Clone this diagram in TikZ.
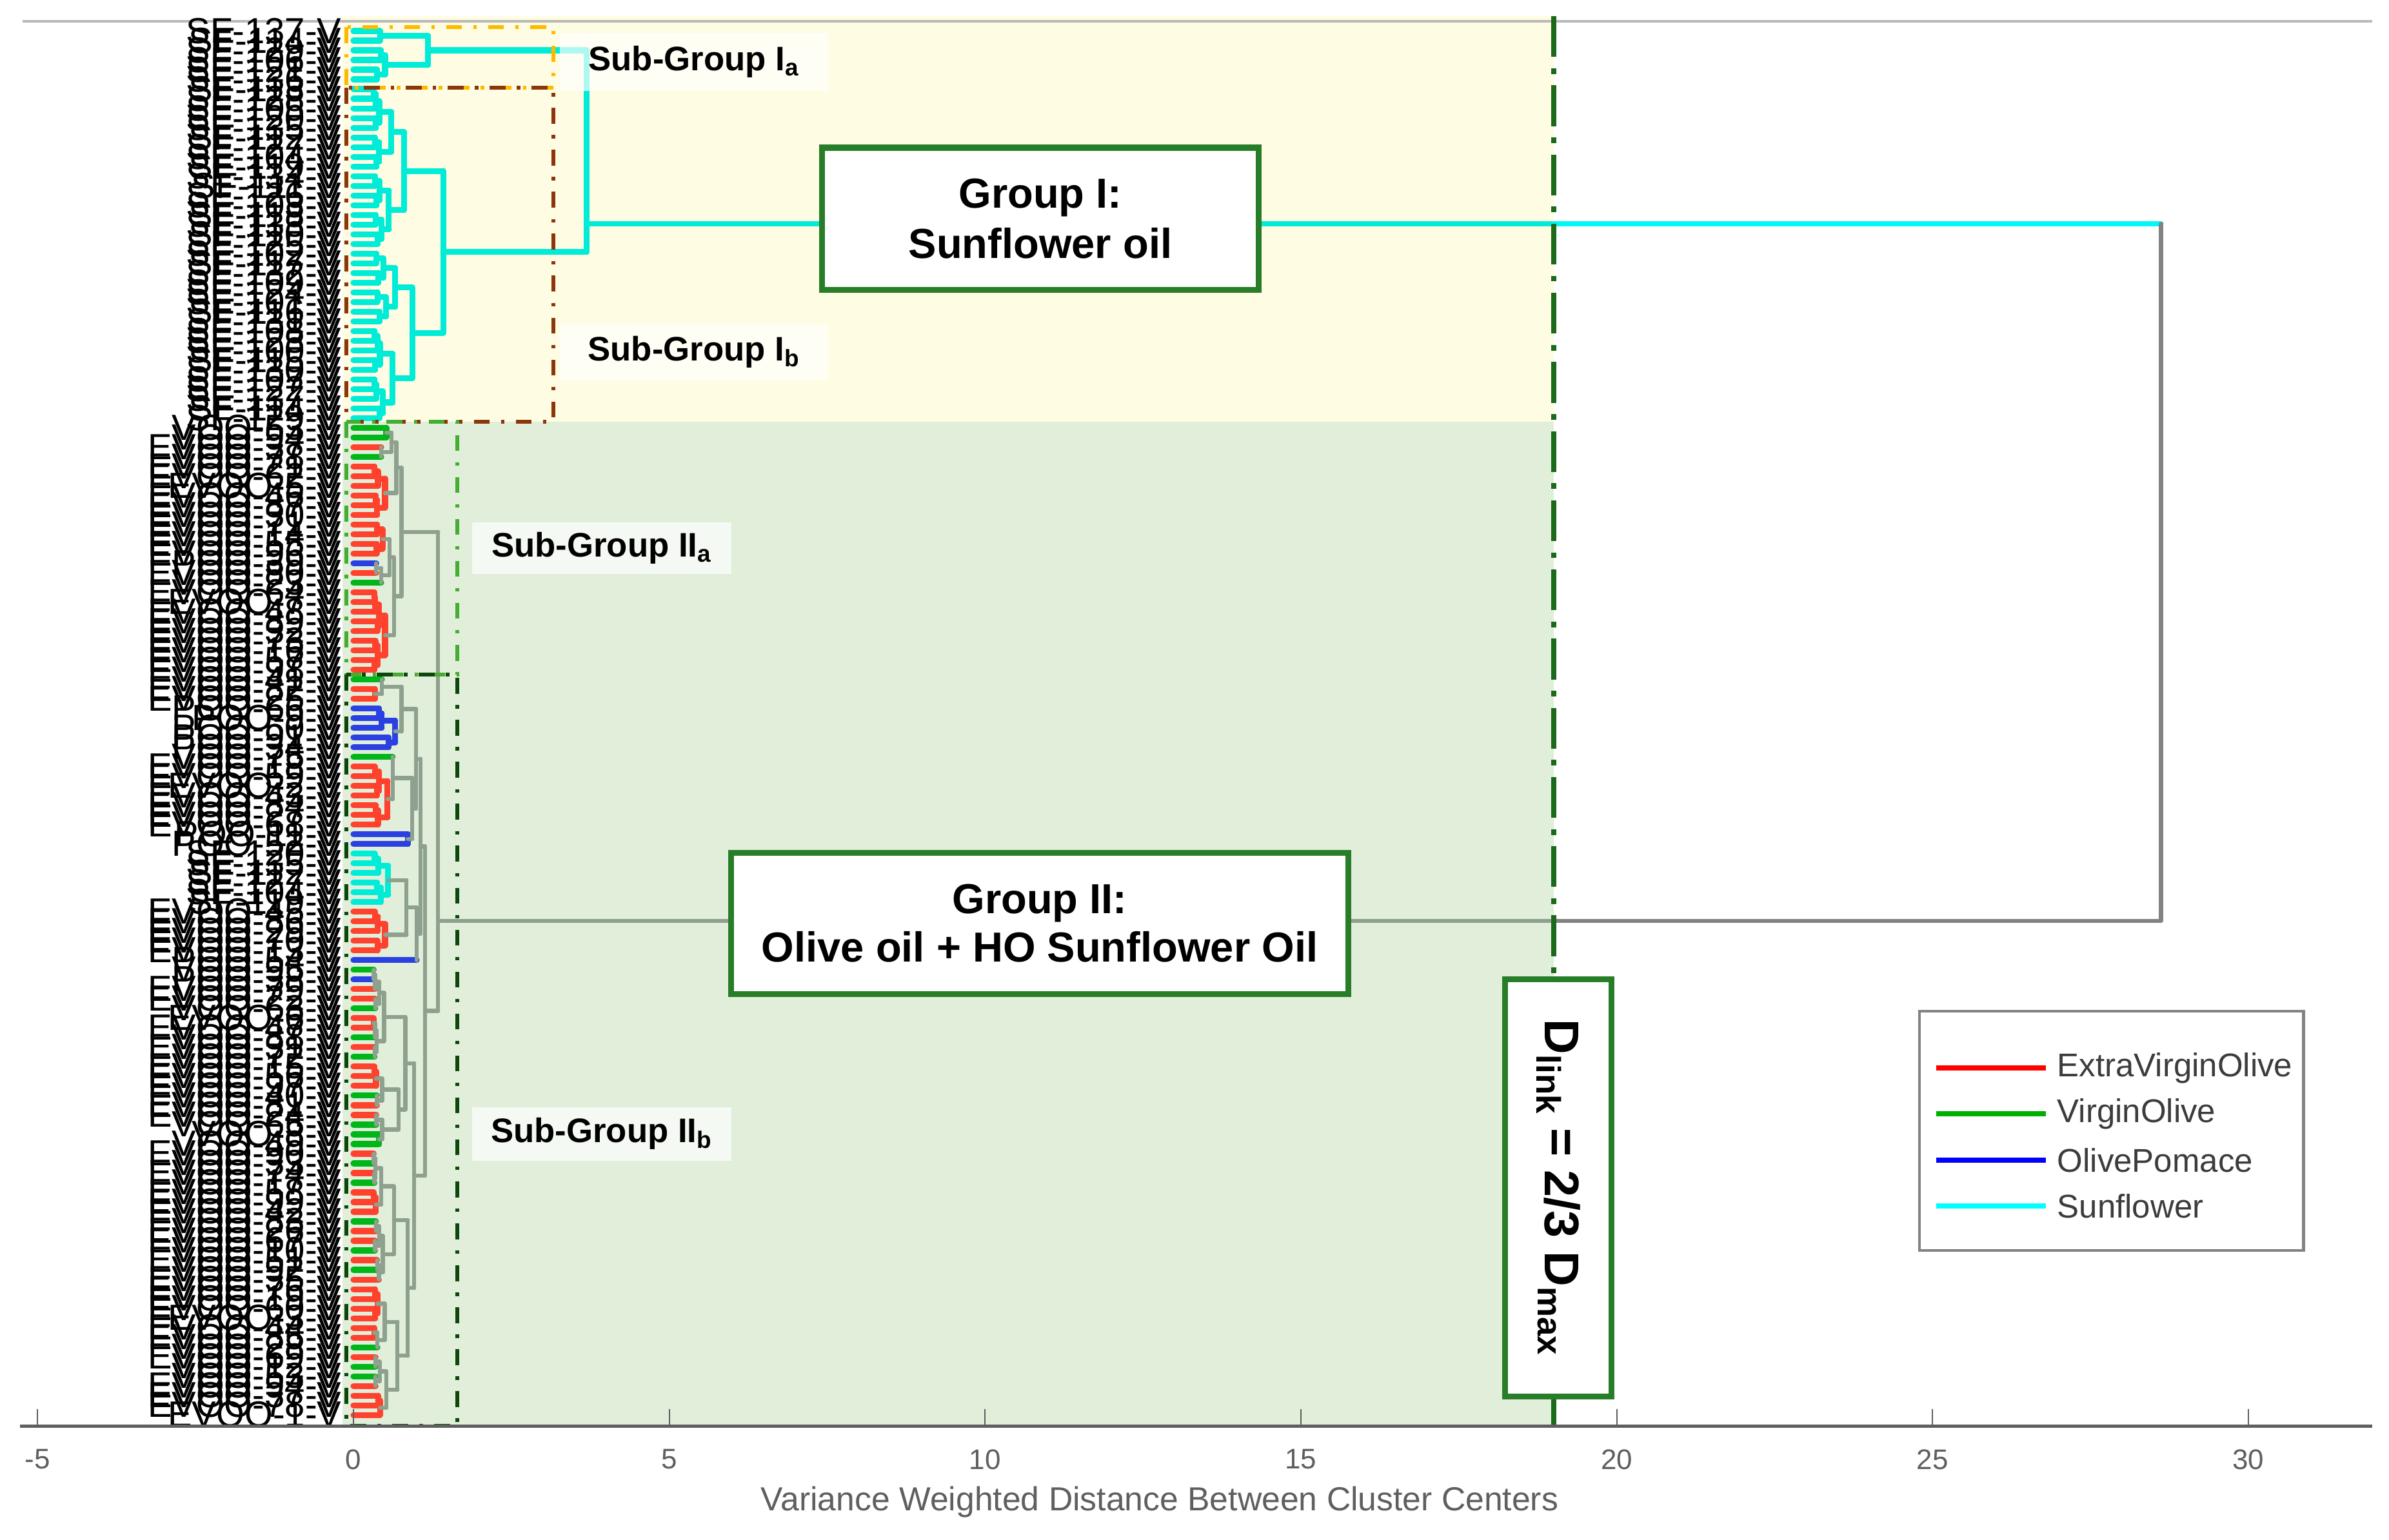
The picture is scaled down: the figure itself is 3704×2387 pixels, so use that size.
\documentclass[tikz,border=0pt]{standalone}
\usepackage{fontspec}
\setmainfont{Liberation Sans}
\definecolor{cC}{RGB}{0,236,214}
\definecolor{cCo}{RGB}{0,248,248}
\definecolor{cR}{RGB}{255,66,46}
\definecolor{cG}{RGB}{0,182,24}
\definecolor{cB}{RGB}{42,64,226}
\definecolor{cK}{RGB}{142,160,142}
\definecolor{panelY}{RGB}{254,252,227}
\definecolor{panelG}{RGB}{224,238,218}
\definecolor{boxG}{RGB}{40,125,40}
\definecolor{dlinkG}{RGB}{28,105,28}
\definecolor{subIa}{RGB}{255,186,0}
\definecolor{subIb}{RGB}{140,55,10}
\definecolor{subIIa}{RGB}{70,172,50}
\definecolor{subIIb}{RGB}{12,72,12}
\definecolor{axGray}{RGB}{95,95,95}
\definecolor{linkGray}{RGB}{130,130,130}
\definecolor{legText}{RGB}{60,60,60}
\definecolor{legRed}{RGB}{255,0,0}
\definecolor{legGreen}{RGB}{0,175,0}
\definecolor{legBlue}{RGB}{0,0,255}
\definecolor{legCyan}{RGB}{0,255,255}

\def\pfxcC{SF}\def\pfxcR{EVOO}\def\pfxcG{VOO}\def\pfxcB{POO}
\def\cKname{cK}
\def\cCname{cC}
\newcommand\setcl[4]{%
  \expandafter\xdef\csname cy@#1\endcsname{#2}%
  \expandafter\xdef\csname ch@#1\endcsname{#3}%
  \expandafter\xdef\csname cc@#1\endcsname{#4}}
\newcommand\J[4]{%
  \begingroup
  \edef\jya{\csname cy@#2\endcsname}\edef\jha{\csname ch@#2\endcsname}\edef\jca{\csname cc@#2\endcsname}%
  \edef\jyb{\csname cy@#3\endcsname}\edef\jhb{\csname ch@#3\endcsname}\edef\jcb{\csname cc@#3\endcsname}%
  \ifx\jca\jcb\let\jc\jca\else\let\jc\cKname\fi
  \ifx\jc\cKname\def\jw{1.8pt}\else\def\jw{2.6pt}\fi
  \ifdim\jha pt=0pt\let\jla\jca\def\jwa{2.6pt}\else\let\jla\jc\let\jwa\jw\fi
  \ifdim\jhb pt=0pt\let\jlb\jcb\def\jwb{2.6pt}\else\let\jlb\jc\let\jwb\jw\fi
  \draw[lnk,color=\jla,line width=\jwa] (\jha,\jya) -- (#4,\jya);
  \draw[lnk,color=\jlb,line width=\jwb] (\jhb,\jyb) -- (#4,\jyb);
  \draw[lnk,color=\jc,line width=\jw] (#4,\jya) -- (#4,\jyb);
  \pgfmathsetmacro\jym{(\jya+\jyb)/2}%
  \setcl{#1}{\jym}{#4}{\jc}%
  \endgroup}
\newcommand\BT[3]{%
  \ifnum#1<#2\relax
  \begingroup
    \pgfmathtruncatemacro\btm{floor((#1+#2)/2)}%
    \pgfmathtruncatemacro\btn{\btm+1}%
    \pgfmathsetmacro\bthl{#3-(#3-0.3)*(0.2+0.45*abs(sin(#1*37.3+#2*53.9)))}%
    \pgfmathsetmacro\bthr{#3-(#3-0.3)*(0.2+0.45*abs(sin(#1*61.1+#2*29.7+17)))}%
    \ifnum#1=\btm\relax\def\lname{#1}\else\edef\lname{#1:\btm}\fi
    \ifnum\btn=#2\relax\def\rname{#2}\else\edef\rname{\btn:#2}\fi
    \edef\btnext{\noexpand\BT{#1}{\btm}{\bthl}\noexpand\BT{\btn}{#2}{\bthr}\noexpand\J{#1:#2}{\lname}{\rname}{#3}}%
    \btnext
  \endgroup
  \fi}

\def\leafcolors{cC,cC,cC,cC,cC,cC,cC,cC,cC,cC,
cC,cC,cC,cC,cC,cC,cC,cC,cC,cC,
cC,cC,cC,cC,cC,cC,cC,cC,cC,cC,
cC,cC,cC,cC,cC,cC,cC,cC,cC,cC,
cC,
cG,cG,cR,cG,cR,cR,cR,cR,cR,cR,cR,cR,cR,cR,cB,cR,cG,cR,cR,cR,cR,cR,cR,cR,cR,cR,
cG,cR,cR,cB,cB,cB,cB,cB,cG,cR,cR,cR,cR,cR,cR,cR,cB,cB,cC,cC,cC,cC,cC,cC,cR,cR,cR,cR,cR,
cB,cG,cB,cR,cR,cG,cR,cR,cG,cR,cG,cR,cR,cR,cG,cR,cR,cG,cG,cG,
cR,cG,cR,cG,cR,cR,cR,cG,cR,cR,cG,cR,cG,cR,cR,cR,cR,cR,cR,cR,cG,cR,cG,cG,cR,cR,cR,cR}

\begin{document}
\begin{tikzpicture}[x=0.01cm,y=-0.01cm,
  lnk/.style={line cap=round,line join=round},
  leaflab/.style={anchor=east,inner sep=0pt,font=\fontsize{16}{16}\selectfont},
  subbox/.style={line width=1.7pt,dash pattern=on 7pt off 5pt on 1.5pt off 5pt},
  sublab/.style={fill=white,fill opacity=0.68,text opacity=1,inner sep=0pt,font=\fontsize{15}{15}\selectfont\bfseries},
  gbox/.style={draw=boxG,line width=2.6pt,fill=white,align=center,inner sep=0pt},
  legline/.style={line width=2.3pt},
  legtxt/.style={anchor=west,inner sep=0pt,text=legText,font=\fontsize{14.5}{14.5}\selectfont},
  ticklab/.style={inner sep=0pt,text=axGray,font=\fontsize{12.5}{12.5}\selectfont}]
\useasboundingbox (0,0) rectangle (3704,2387);
\fill[white] (0,0) rectangle (3704,2387);
% panels
\fill[panelY] (531,25) rectangle (2409,654);
\fill[panelG] (531,654) rectangle (2409,2211);
\draw[gray!55,line width=0.9pt] (35,33) -- (3678,33);
% leaves and labels
\foreach \col [count=\i from 0] in \leafcolors {
  \setcl{\i}{\i}{0}{\col}
  \ifx\col\cCname
    \pgfmathtruncatemacro\num{137-mod(23*\i,38)}
  \else
    \pgfmathtruncatemacro\num{mod(36+41*\i,98)+2}
  \fi
  \ifnum\i=143 \def\num{1}\fi
  \node[leaflab] (lab\i) at (530,{48+15*\i}) {\csname pfx\col\endcsname-\num-V};
}
% dendrogram in data units
\begin{scope}[shift={(548,48)},x=0.9793cm,y=-0.15cm]
  % Group I
  \BT{0}{1}{0.42}\BT{2}{5}{0.5}\J{Ia}{0:1}{2:5}{1.18}
  \BT{6}{14}{0.6}\BT{15}{22}{0.56}\J{IbA}{6:14}{15:22}{0.8}
  \BT{23}{30}{0.66}\BT{31}{40}{0.62}\J{IbB}{23:30}{31:40}{0.93}
  \J{Ib}{IbA}{IbB}{1.42}
  \J{GI}{Ia}{Ib}{3.69}
  % Group II a
  \J{a1}{41}{42}{0.52}\J{a2}{43}{44}{0.44}\J{a3}{a1}{a2}{0.6}
  \BT{45}{50}{0.5}\J{P}{a3}{45:50}{0.68}
  \BT{51}{54}{0.46}\J{a4}{55}{56}{0.36}\J{a5}{a4}{57}{0.44}\J{a6}{51:54}{a5}{0.57}
  \BT{58}{66}{0.5}\J{Q}{a6}{58:66}{0.64}
  \J{IIa}{P}{Q}{0.76}
  % Group II b
  \BT{68}{69}{0.34}\J{b1}{67}{68:69}{0.45}
  \BT{70}{74}{0.66}\J{b2}{b1}{70:74}{0.76}
  \BT{76}{82}{0.54}\J{b3}{75}{76:82}{0.62}
  \J{b4}{83}{84}{0.86}\J{b5}{b3}{b4}{0.93}
  \J{S1}{b2}{b5}{0.99}
  \BT{85}{90}{0.55}\BT{91}{95}{0.5}\J{b6}{85:90}{91:95}{0.84}
  \J{b7}{b6}{96}{1.0}
  \J{S2}{S1}{b7}{1.06}
  \BT{97}{115}{0.82}\BT{116}{143}{0.86}\J{S3}{97:115}{116:143}{0.96}
  \J{IIb}{S2}{S3}{1.13}
  \J{GII}{IIa}{IIb}{1.34}
  % top link
  \draw[lnk,cC,line width=2.4pt] (3.69,19.93) -- (19,19.93);
  \draw[lnk,cCo,line width=2.4pt] (19,19.93) -- (28.6,19.93);
  \draw[lnk,cK,line width=1.8pt] (1.34,91.93) -- (19,91.93);
  \draw[lnk,linkGray,line width=1.8pt] (19,91.93) -- (28.6,91.93) -- (28.6,19.93);
\end{scope}
% sub-group frames
\draw[subbox,subIa] (537,42) rectangle (858,136);
\draw[subbox,subIb] (537,136) rectangle (858,654);
\draw[subbox,subIIa] (537,654) rectangle (709,1046);
\draw[subbox,subIIb] (537,1046) rectangle (709,2211);
% D_link threshold line
\draw[dlinkG,line width=2.4pt,dash pattern=on 18pt off 5pt on 2.5pt off 5pt] (2409,25) -- (2409,2211);
% sub-group labels
\node[sublab,minimum width=4.15cm,minimum height=0.9cm] (sIa) at (1076,96) {Sub-Group I\textsubscript{a}};
\node[sublab,minimum width=4.15cm,minimum height=0.85cm] (sIb) at (1076,546) {Sub-Group I\textsubscript{b}};
\node[sublab,minimum width=4.02cm,minimum height=0.8cm] (sIIa) at (933,850) {Sub-Group II\textsubscript{a}};
\node[sublab,minimum width=4.02cm,minimum height=0.83cm] (sIIb) at (933,1758) {Sub-Group II\textsubscript{b}};
% group boxes
\node[gbox,minimum width=6.76cm,minimum height=2.2cm,font=\fontsize{18.5}{22}\selectfont\bfseries] (g1) at (1613,339) {Group I:\\Sunflower oil};
\node[gbox,minimum width=9.56cm,minimum height=2.19cm,font=\fontsize{18.5}{21.3}\selectfont\bfseries] (g2) at (1612,1432) {Group II:\\Olive oil + HO Sunflower Oil};
\node[gbox,minimum width=1.65cm,minimum height=6.47cm] (dbox) at (2416,1842) {};
\node[rotate=-90,inner sep=0pt,font=\fontsize{21.5}{21.5}\selectfont\bfseries] (dl) at (dbox.center) {D\textsubscript{link} = 2/3 D\textsubscript{max}};
% legend
\node[draw=linkGray,fill=white,line width=1.3pt,minimum width=5.95cm,minimum height=3.71cm,inner sep=0pt] (leg) at (3273.5,1753.5) {};
\draw[legline,legRed] (3002,1656) -- (3172,1656);
\node[legtxt] (l1) at (3189,1656) {ExtraVirginOlive};
\draw[legline,legGreen] (3002,1727) -- (3172,1727);
\node[legtxt] (l2) at (3189,1727) {VirginOlive};
\draw[legline,legBlue] (3002,1799) -- (3172,1799);
\node[legtxt] (l3) at (3189,1799) {OlivePomace};
\draw[legline,legCyan] (3002,1870) -- (3172,1870);
\node[legtxt] (l4) at (3189,1870) {Sunflower};
% axis
\draw[axGray,line width=1.4pt] (31,2211) -- (3678,2211);
\foreach \t in {-5,0,5,10,15,20,25,30} {
  \draw[axGray,line width=0.6pt] ({548+97.93*\t},2211) -- ({548+97.93*\t},2185);
  \node[ticklab] (tk\t) at ({548+97.93*\t},2263) {\t};
}
\node[inner sep=0pt,text=axGray,font=\fontsize{14.7}{14.7}\selectfont] (xt) at (1798,2329) {Variance Weighted Distance Between Cluster Centers};
\end{tikzpicture}
\end{document}
